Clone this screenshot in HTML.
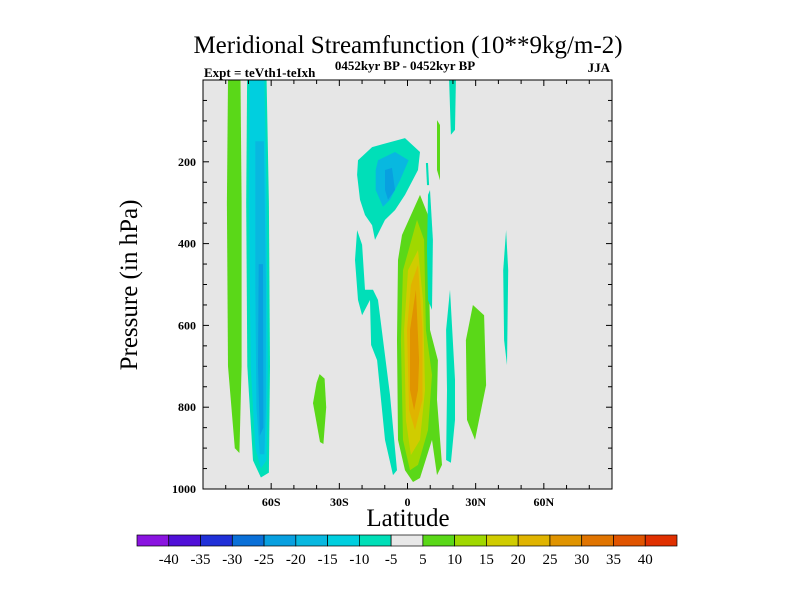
<!DOCTYPE html>
<html><head><meta charset="utf-8"><style>
body{margin:0;background:#fff;}
svg text{font-family:"Liberation Serif",serif;fill:#000;}
</style></head><body>
<svg id="chart" width="800" height="600" viewBox="0 0 800 600" xmlns="http://www.w3.org/2000/svg">
<text x="408" y="53" font-size="25" text-anchor="middle">Meridional Streamfunction (10**9kg/m-2)</text>
<text x="204" y="77" font-size="13" font-weight="bold">Expt = teVth1-teIxh</text>
<text x="405" y="70" font-size="13" font-weight="bold" text-anchor="middle">0452kyr BP - 0452kyr BP</text>
<text x="610" y="72" font-size="13" font-weight="bold" text-anchor="end">JJA</text>
<rect x="203" y="80" width="409" height="409" fill="#e6e6e6"/>
<g id="fills"></g>
<g id="axes"></g>
<text transform="translate(137,285) rotate(-90)" font-size="25" text-anchor="middle">Pressure (in hPa)</text>
<text x="408" y="526" font-size="25" text-anchor="middle">Latitude</text>
<g id="cbar"></g>
</svg>
<script>
const levelColors=["#8a14e0","#5010d8","#2030d8","#0a70d8","#08a0e0","#08b8e0","#00cfdf","#00dfb8","#e8e8e8","#5ad818","#a0d800","#d0cc00","#e0b400","#e09400","#e07400","#e05400","#e03000"];
const levelLabels=["-40","-35","-30","-25","-20","-15","-10","-5","5","10","15","20","25","30","35","40"];
const xTickLabels=["60S","30S","0","30N","60N"];
const xTickValues=[-60,-30,0,30,60];
const yTickValues=[200,400,600,800,1000];
// contour regions: level index into levelColors, polygon in [lat, hPa]
const regionLevels=[9,7,6,5,4, 9, 7,5,4, 7, 9,10,11,12,13, 7,7,7,9,7,9,7];
const regionShapes=[
[[-79,0],[-73.5,0],[-73,300],[-73,700],[-74,912],[-76,900],[-79,700],[-79.5,300]],
[[-70.6,0],[-62,0],[-61,300],[-60.5,700],[-61,960],[-64.5,972],[-68,930],[-70.5,700],[-71,300]],
[[-69.5,0],[-63,0],[-62,300],[-61.5,700],[-62,930],[-64.5,950],[-67,900],[-69,700],[-69.8,300]],
[[-67,150],[-63.2,150],[-62.3,500],[-62.3,800],[-63,915],[-65,915],[-66.5,800],[-67,500]],
[[-65.5,450],[-63.6,450],[-63.4,850],[-65,870],[-65.8,700]],
[[-38.7,719],[-36.5,730],[-35.8,800],[-37,890],[-38.5,885],[-41.6,790],[-40,740]],
[[-21.8,196],[-15.6,164],[-1.1,142],[5.5,176],[4.6,220],[-1.1,281],[-5.5,318],[-9.9,342],[-14.3,391],[-15.6,355],[-18.7,330],[-20.9,293],[-22.2,232]],
[[-13,196],[-5.5,176],[0.5,196],[-3.3,245],[-7.7,293],[-10.8,310],[-14,269],[-14,220]],
[[-9.9,220],[-6.8,215],[-5.5,269],[-8.6,293],[-9.9,269]],
[[-22.2,367],[-20,403],[-18.7,513],[-15.2,513],[-13,538],[-7.7,770],[-4.6,954],[-6.4,966],[-9.9,880],[-13.4,685],[-16,648],[-16.5,538],[-20,575],[-21.8,538],[-23.1,440]],
[[5.5,281],[9,330],[9.9,611],[13.4,685],[13,782],[15.2,941],[13,966],[10.8,880],[5.5,973],[2.4,983],[-1.1,954],[-4.2,880],[-4.6,636],[-4.2,440],[-2.4,379]],
[[4.2,342],[7.3,391],[8.1,611],[10.8,721],[9,856],[4.6,941],[1.1,954],[-2,880],[-2.9,636],[-2,465]],
[[4.6,416],[6.8,538],[7.7,758],[5.5,880],[1.5,917],[-0.7,831],[-1.5,611],[0.2,465]],
[[4.6,452],[6.6,611],[6.6,782],[3.3,856],[0.7,807],[-0.2,611],[1.5,501]],
[[3.7,513],[5.1,685],[4.6,758],[2.9,807],[1.1,758],[1.1,611]],
[[9.9,269],[11.2,391],[10.8,562],[9,538],[8.6,416],[9,281]],
[[8.1,203],[9,203],[9.5,257],[8.6,257]],
[[18.7,513],[20.9,733],[20.9,831],[19.1,936],[17,929],[17.4,758],[17,611]],
[[28.8,550],[33.7,575],[34.6,746],[29.7,880],[26.2,831],[25.7,636]],
[[43.4,367],[44.3,465],[43.8,697],[42.5,636],[42.1,465]],
[[13,98],[14.3,110],[14.3,245],[13,220]],
[[18.3,0],[21.3,0],[20.9,122],[19.1,134]]
];
const X0=203,X1=612,Y0=80,Y1=489;
function xs(lat){return X0+(lat+90)/180*(X1-X0);}
function ys(p){return Y0+p/1000*(Y1-Y0);}
const NS="http://www.w3.org/2000/svg";
function mk(tag,attrs,parent){const e=document.createElementNS(NS,tag);for(const k in attrs)e.setAttribute(k,attrs[k]);parent.appendChild(e);return e;}
const fills=document.getElementById('fills');
regionShapes.forEach((shape,i)=>{
  const pts=shape.map(q=>xs(q[0]).toFixed(1)+","+ys(q[1]).toFixed(1)).join(" ");
  const e=mk('polygon',{points:pts,fill:levelColors[regionLevels[i]]},fills);
  
  
});
const axes=document.getElementById('axes');
const frame=mk('rect',{x:X0,y:Y0,width:X1-X0,height:Y1-Y0,fill:'none',stroke:'#000','stroke-width':1},axes);


for(let lat=-80;lat<=80;lat+=10){
  const maj=lat%30===0, L=maj?6:4, x=xs(lat);
  mk('line',{x1:x,y1:Y1,x2:x,y2:Y1-L,stroke:'#000'},axes);
  mk('line',{x1:x,y1:Y0,x2:x,y2:Y0+L,stroke:'#000'},axes);
}
for(let p=50;p<1000;p+=50){
  const maj=p%200===0, L=maj?6:4, y=ys(p);
  mk('line',{x1:X0,y1:y,x2:X0+L,y2:y,stroke:'#000'},axes);
  mk('line',{x1:X1,y1:y,x2:X1-L,y2:y,stroke:'#000'},axes);
}
xTickValues.forEach((v,i)=>{
  const t=mk('text',{x:xs(v),y:Y1+17,'font-size':12,'font-weight':'bold','text-anchor':'middle'},axes);
  t.textContent=xTickLabels[i];
  
  
});
yTickValues.forEach(v=>{
  const t=mk('text',{x:X0-7,y:ys(v)+4,'font-size':12,'font-weight':'bold','text-anchor':'end'},axes);
  t.textContent=String(v);
  
  
});
const cb=document.getElementById('cbar');
const CX0=137,CX1=677,CY=535,CH=11,bw=(CX1-CX0)/levelColors.length;
levelColors.forEach((c,i)=>{
  const r=mk('rect',{x:CX0+i*bw,y:CY,width:bw,height:CH,fill:c,stroke:'#000','stroke-width':0.7},cb);
  
  
});
levelLabels.forEach((l,i)=>{
  const t=mk('text',{x:CX0+(i+1)*bw,y:CY+29,'font-size':15,'text-anchor':'middle'},cb);
  t.textContent=l;
  
  
});
</script>
</body></html>
